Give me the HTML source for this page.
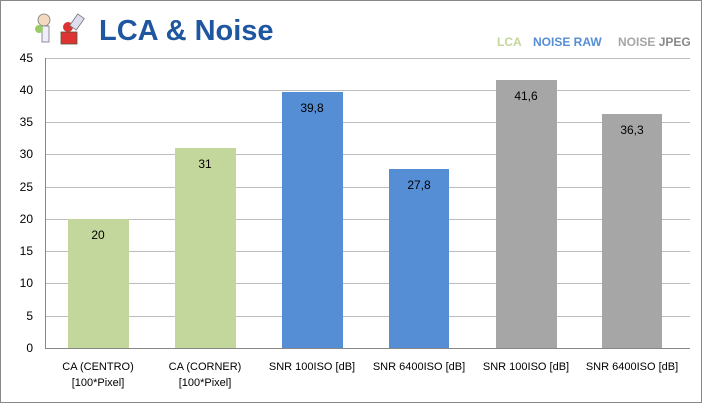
<!DOCTYPE html>
<html><head><style>
body{margin:0;width:702px;height:403px;background:#fff;overflow:hidden;font-family:"Liberation Sans",sans-serif}
</style></head><body>
<svg width="702" height="403" xmlns="http://www.w3.org/2000/svg" font-family="Liberation Sans, sans-serif">
<rect x="0.5" y="0.5" width="701" height="402" fill="#fff" stroke="#888"/>
<g>
<circle cx="44" cy="20" r="6" fill="#f3d9c0" stroke="#777" stroke-width="0.8"/>
<rect x="42" y="26" width="7" height="16" fill="#eef" stroke="#777" stroke-width="0.8"/>
<circle cx="39" cy="29" r="4" fill="#9c6"/>
<circle cx="68" cy="27" r="5" fill="#d33"/>
<rect x="61" y="32" width="16" height="12" fill="#d33" stroke="#553" stroke-width="0.8"/>
<rect x="73" y="15" width="8" height="14" fill="#dde" stroke="#777" stroke-width="0.8" transform="rotate(35 77 22)"/>
</g>
<text x="99" y="40" font-size="29" font-weight="bold" fill="#1e56a0">LCA &amp; Noise</text>
<text x="497" y="46" font-size="12" font-weight="bold" fill="#c3d69b">LCA</text>
<text x="533" y="46" font-size="12" font-weight="bold" fill="#558ed5">NOISE  RAW</text>
<text x="618" y="46" font-size="12" font-weight="bold" fill="#a6a6a6">NOISE <tspan fill="#888">JPEG</tspan></text>
<g stroke="#bdbdbd" stroke-width="1">
<line x1="45" x2="690" y1="58.5" y2="58.5"/>
<line x1="45" x2="690" y1="90.5" y2="90.5"/>
<line x1="45" x2="690" y1="122.5" y2="122.5"/>
<line x1="45" x2="690" y1="154.5" y2="154.5"/>
<line x1="45" x2="690" y1="187.5" y2="187.5"/>
<line x1="45" x2="690" y1="219.5" y2="219.5"/>
<line x1="45" x2="690" y1="251.5" y2="251.5"/>
<line x1="45" x2="690" y1="283.5" y2="283.5"/>
<line x1="45" x2="690" y1="316.5" y2="316.5"/>
</g>
<line x1="45.5" x2="45.5" y1="58" y2="348" stroke="#888"/>
<line x1="45" x2="690" y1="348.5" y2="348.5" stroke="#888"/>
<g font-size="12" fill="#000" text-anchor="end">
<text x="33" y="62">45</text><text x="33" y="94">40</text><text x="33" y="126">35</text>
<text x="33" y="158">30</text><text x="33" y="191">25</text><text x="33" y="223">20</text>
<text x="33" y="255">15</text><text x="33" y="287">10</text><text x="33" y="320">5</text>
<text x="33" y="352">0</text>
</g>
<rect x="68" y="219" width="61" height="129" fill="#c3d69b"/>
<rect x="175" y="148" width="61" height="200" fill="#c3d69b"/>
<rect x="282" y="92" width="61" height="256" fill="#558ed5"/>
<rect x="389" y="169" width="60" height="179" fill="#558ed5"/>
<rect x="496" y="80" width="61" height="268" fill="#a6a6a6"/>
<rect x="602" y="114" width="60" height="234" fill="#a6a6a6"/>
<g font-size="12" text-anchor="middle" fill="#000">
<text x="98" y="239">20</text><text x="205" y="168">31</text>
<text x="312" y="112">39,8</text><text x="419" y="189">27,8</text>
<text x="526" y="100">41,6</text><text x="632" y="134">36,3</text>
</g>
<g font-size="11" text-anchor="middle" fill="#000">
<text x="98" y="370">CA (CENTRO)</text><text x="98" y="386">[100*Pixel]</text>
<text x="205" y="370">CA (CORNER)</text><text x="205" y="386">[100*Pixel]</text>
<text x="312" y="370">SNR 100ISO [dB]</text>
<text x="419" y="370">SNR 6400ISO [dB]</text>
<text x="526" y="370">SNR 100ISO [dB]</text>
<text x="632" y="370">SNR 6400ISO [dB]</text>
</g>
</svg>
</body></html>
